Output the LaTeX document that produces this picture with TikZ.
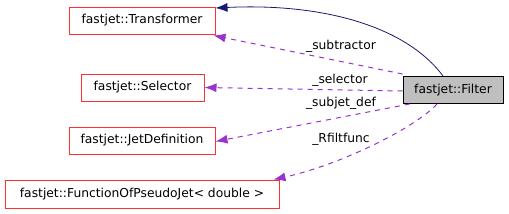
\documentclass[tikz,border=0pt]{standalone}
\usepackage{fontspec}
\setmainfont{DejaVu Sans}
\usetikzlibrary{arrows.meta}
\definecolor{edgered}{HTML}{FF3030}
\definecolor{navyline}{HTML}{191970}
\definecolor{orchid}{HTML}{9A32CD}
\definecolor{filtgray}{HTML}{BFBFBF}
\tikzset{
  x=1pt,y=-1pt,
  every node/.style={font=\fontsize{12.3}{14}\selectfont, inner sep=0pt},
  classbox/.style={draw=edgered, line width=1pt, minimum height=27pt},
  mainbox/.style={draw=black, fill=filtgray, line width=1pt, minimum height=27pt},
  inherit/.style={draw=navyline, line width=0.8pt, -{Latex[length=12pt,width=9pt]}},
  usage/.style={draw=orchid, line width=1pt, dash pattern=on 5pt off 5pt, -{Latex[length=12pt,width=9pt]}},
  elabel/.style={font=\fontsize{12.3}{14}\selectfont}
}
\begin{document}
\begin{tikzpicture}
\useasboundingbox (0,0) rectangle (509,214);
\node[classbox, minimum width=146pt] (trans) at (142,20.5) {fastjet::Transformer};
\node[classbox, minimum width=123pt] (sel) at (142.5,87.5) {fastjet::Selector};
\node[classbox, minimum width=146pt] (jdef) at (142,140.5) {fastjet::JetDefinition};
\node[classbox, minimum width=274pt, minimum height=28pt] (fopj) at (142,194) {fastjet::FunctionOfPseudoJet< double >};
\node[mainbox, minimum width=100pt] (filt) at (453,90) {fastjet::Filter};

\draw[inherit] ([xshift=-10pt]filt.north) .. controls (405,25) and (320,3) .. ([yshift=-1.5pt]trans.north east);
\draw[usage] ([yshift=2pt]filt.north west) -- ([xshift=-2pt,yshift=-1pt]trans.south east);
\draw[usage] ([yshift=-1pt]filt.west) -- (sel.east);
\draw[usage] ([xshift=7pt]filt.south west) -- ([yshift=-1pt]jdef.east);
\draw[usage] ([xshift=-16pt]filt.south) .. controls (415,128) and (340,165) .. ([xshift=-6pt]fopj.north east);

\node[elabel] (l1) at (341,46) {\_subtractor};
\node[elabel] (l2) at (340,80) {\_selector};
\node[elabel] (l3) at (341,103) {\_subjet\_def};
\node[elabel] (l4) at (341,139) {\_Rfiltfunc};
\end{tikzpicture}
\end{document}
